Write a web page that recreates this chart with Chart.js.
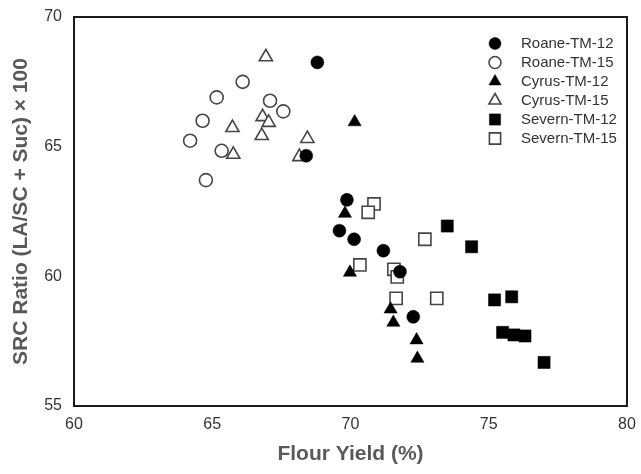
<!DOCTYPE html>
<html>
<head>
<meta charset="utf-8">
<script src="https://cdn.jsdelivr.net/npm/chart.js@4/dist/chart.umd.min.js"></script>
<style>
    html, body { margin: 0; padding: 0; background: #fff; }
    #wrap { width: 641px; height: 474px; }
</style>
</head>
<body>
<div id="wrap"><canvas id="graficoSRC"></canvas></div>
<script>
// dados
const seriesNames = ['Roane-TM-12', 'Roane-TM-15', 'Cyrus-TM-12', 'Cyrus-TM-15', 'Severn-TM-12', 'Severn-TM-15'];

const roane12X = [68.8, 68.4, 69.87, 69.6, 70.13, 71.19, 71.79, 72.27];
const roane12Y = [68.25, 64.65, 62.95, 61.76, 61.43, 60.99, 60.18, 58.44];

const roane15X = [66.1, 65.16, 67.09, 67.57, 64.65, 64.2, 65.34, 64.77];
const roane15Y = [67.5, 66.9, 66.77, 66.36, 66.0, 65.23, 64.84, 63.71];

const cyrus12X = [70.15, 69.8, 69.98, 71.45, 71.55, 72.39, 72.42];
const cyrus12Y = [65.95, 62.42, 60.15, 58.73, 58.22, 57.54, 56.83];

const cyrus15X = [66.94, 66.82, 67.04, 65.73, 66.79, 68.44, 65.76, 68.15];
const cyrus15Y = [68.46, 66.15, 65.93, 65.73, 65.42, 65.31, 64.7, 64.61];

const severn12X = [73.5, 74.38, 75.21, 75.83, 75.5, 75.91, 76.31, 77.0];
const severn12Y = [61.94, 61.14, 59.09, 59.21, 57.84, 57.74, 57.7, 56.68];

const severn15X = [70.85, 70.64, 72.69, 70.34, 71.57, 71.69, 71.65, 73.12];
const severn15Y = [62.79, 62.47, 61.43, 60.44, 60.27, 59.98, 59.15, 59.15];

const xTicks = [60, 65, 70, 75, 80];
const yTicks = [55, 60, 65, 70];

function toPoints(xs, ys) {
    return xs.map(function (x, i) { return { x: x, y: ys[i] }; });
}

const openColor = '#454545';

function makeSet(name, xs, ys, style, filled) {
    let radius = 6.5;
    if (style === 'triangle') radius = 7.6;
    if (style === 'rect') radius = 8.6;
    return {
        label: name,
        data: toPoints(xs, ys),
        pointStyle: style,
        pointRadius: radius,
        pointHoverRadius: radius,
        backgroundColor: filled ? '#000000' : '#ffffff',
        borderColor: filled ? '#000000' : openColor,
        borderWidth: filled ? 0.5 : 1.6,
        showLine: false
    };
}

const datasets = [
    makeSet(seriesNames[0], roane12X, roane12Y, 'circle', true),
    makeSet(seriesNames[1], roane15X, roane15Y, 'circle', false),
    makeSet(seriesNames[2], cyrus12X, cyrus12Y, 'triangle', true),
    makeSet(seriesNames[3], cyrus15X, cyrus15Y, 'triangle', false),
    makeSet(seriesNames[4], severn12X, severn12Y, 'rect', true),
    makeSet(seriesNames[5], severn15X, severn15Y, 'rect', false)
];

// moldura em volta da área do gráfico + legenda dentro dela
const frameAndLegend = {
    id: 'frameAndLegend',
    afterDraw: function (chart) {
        const ctx = chart.ctx;
        const a = chart.chartArea;
        ctx.save();
        ctx.strokeStyle = '#1a1a1a';
        ctx.lineWidth = 2;
        ctx.strokeRect(a.left, a.top, a.right - a.left, a.bottom - a.top);

        const markX = 495;
        const textX = 521;
        let rowY = 43.5;
        ctx.font = '15px "Liberation Sans", Arial, sans-serif';
        ctx.textBaseline = 'middle';
        ctx.textAlign = 'left';
        chart.data.datasets.forEach(function (ds) {
            ctx.fillStyle = ds.backgroundColor;
            ctx.strokeStyle = ds.borderColor;
            ctx.lineWidth = ds.borderWidth;
            Chart.helpers.drawPoint(ctx, {
                pointStyle: ds.pointStyle,
                radius: ds.pointRadius * 0.92,
                rotation: 0,
                borderWidth: ds.borderWidth
            }, markX, rowY);
            ctx.fillStyle = '#333333';
            ctx.fillText(ds.label, textX, rowY);
            rowY += 19;
        });
        ctx.restore();
    }
};

const ctx = document.getElementById('graficoSRC').getContext('2d');
new Chart(ctx, {
    type: 'scatter',
    data: { datasets: datasets },
    plugins: [frameAndLegend],
    options: {
        responsive: true,
        maintainAspectRatio: false,
        animation: false,
        layout: { padding: { top: 17, right: 14, left: 0, bottom: 0 } },
        plugins: {
            legend: { display: false },
            tooltip: { enabled: false }
        },
        scales: {
            x: {
                type: 'linear',
                min: 60,
                max: 80,
                afterBuildTicks: function (scale) {
                    scale.ticks = xTicks.map(function (v) { return { value: v }; });
                },
                afterFit: function (scale) {
                    scale.height = 68;
                    // não deixar o rótulo "80" empurrar a área do gráfico
                    scale.paddingLeft = 0;
                    scale.paddingRight = 0;
                },
                grid: { display: false, drawTicks: false },
                border: { display: false },
                ticks: {
                    padding: 9,
                    color: '#333333',
                    font: { family: '"Liberation Sans", Arial, sans-serif', size: 16 }
                },
                title: {
                    display: true,
                    text: 'Flour Yield (%)',
                    color: '#595959',
                    font: { family: '"Liberation Sans", Arial, sans-serif', size: 21, weight: 'bold' },
                    padding: { top: 0, bottom: 7 }
                }
            },
            y: {
                type: 'linear',
                min: 55,
                max: 70,
                afterBuildTicks: function (scale) {
                    scale.ticks = yTicks.map(function (v) { return { value: v }; });
                },
                afterFit: function (scale) {
                    scale.width = 74;
                    scale.paddingTop = 0;
                    scale.paddingBottom = 0;
                },
                grid: { display: false, drawTicks: false },
                border: { display: false },
                ticks: {
                    padding: 12,
                    color: '#333333',
                    font: { family: '"Liberation Sans", Arial, sans-serif', size: 16 }
                },
                title: {
                    display: true,
                    text: 'SRC Ratio (LA/SC + Suc) × 100',
                    color: '#595959',
                    font: { family: '"Liberation Sans", Arial, sans-serif', size: 21, weight: 'bold' },
                    padding: { top: 9, bottom: 0 }
                }
            }
        }
    }
});
</script>
</body>
</html>
